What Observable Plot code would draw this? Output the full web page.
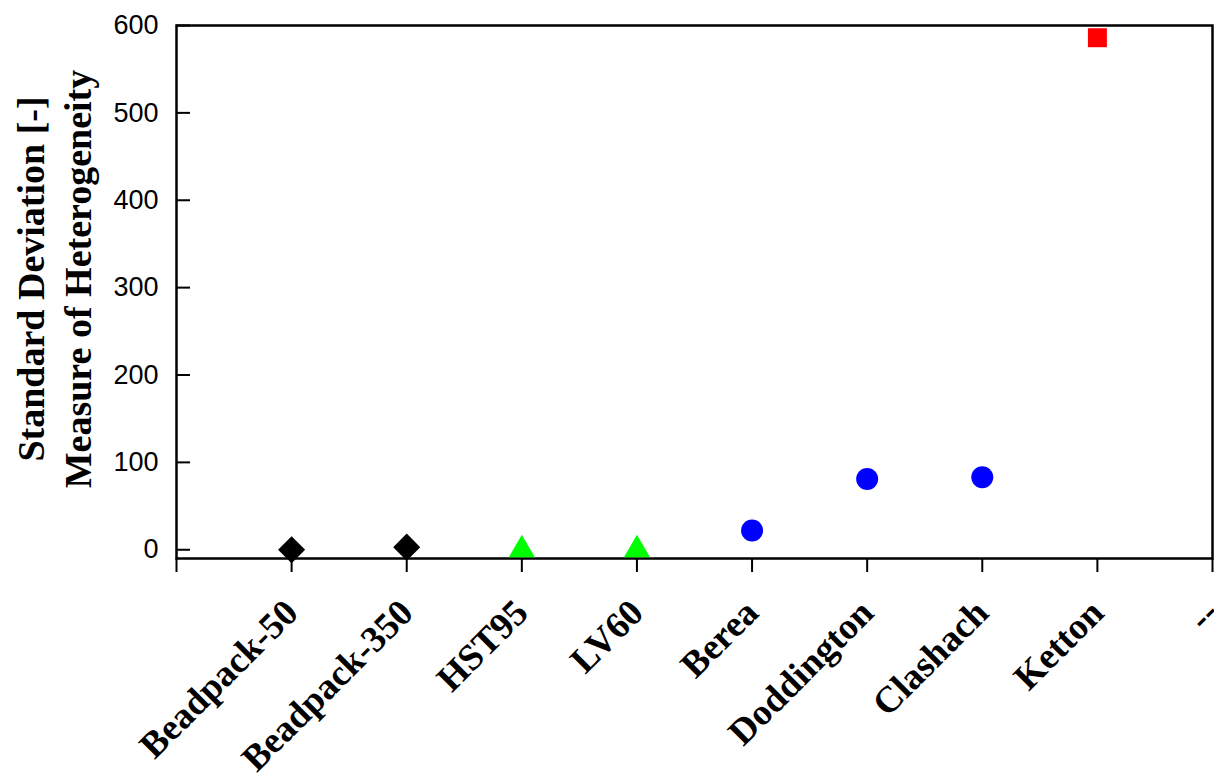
<!DOCTYPE html>
<html><head><meta charset="utf-8">
<script src="https://cdn.jsdelivr.net/npm/d3@7"></script>
<script src="https://cdn.jsdelivr.net/npm/@observablehq/plot@0.6"></script>
<style>body{margin:0;background:#fff}svg{overflow:visible}</style>
</head><body><div id="chart"></div>
<script>
const categories = ["Beadpack-50","Beadpack-350","HST95","LV60","Berea","Doddington","Clashach","Ketton"];
const values = [0, 3, 0, 0, 22, 81, 83, 586];
const groups = ["Beadpack","Beadpack","Sandpack","Sandpack","Sandstone","Sandstone","Sandstone","Carbonate"];
const groupNames = ["Beadpack","Sandpack","Sandstone","Carbonate"];
const groupColors = ["#000000","#00ff00","#0000ff","#ff0000"];
const groupSymbols = ["diamond2","triangle","circle","square"];
const groupRadius = [12.2, 9.7, 11, 10.7];
const xTickLabels = ["", ...categories, "--"];
const yTicks = [0, 100, 200, 300, 400, 500, 600];
const yTitle = "Standard Deviation [-]\nMeasure of Heterogeneity";

const data = categories.map((c, i) => ({
  pos: i + 1,
  name: c,
  value: values[i],
  group: groups[i],
  r: groupRadius[groupNames.indexOf(groups[i])]
}));

const serif = "'Liberation Serif','Times New Roman',serif";
const sans = "'Liberation Sans',Arial,sans-serif";

const chart = Plot.plot({
  width: 1214, height: 778,
  marginLeft: 176, marginRight: 2, marginTop: 25, marginBottom: 220,
  style: {background: "#fff", overflow: "visible"},
  x: {domain: [0, 9]},
  y: {domain: [-10, 600]},
  r: {type: "identity"},
  color: {domain: groupNames, range: groupColors},
  symbol: {domain: groupNames, range: groupSymbols},
  marks: [
    Plot.frame({stroke: "black", strokeWidth: 2.5}),
    Plot.axisY({ticks: yTicks, tickSize: -14, text: null, strokeWidth: 2, label: null}),
    Plot.axisY({ticks: yTicks, tickSize: 0, tickPadding: 18, fontSize: 27, fontFamily: sans, label: null}),
    Plot.axisX({ticks: d3.range(0, 10), tickFormat: i => xTickLabels[i], tickSize: 14, strokeWidth: 2,
      tickRotate: -45, tickPadding: 34, fontSize: 37, fontWeight: "bold", fontFamily: serif, label: null}),
    Plot.text([yTitle], {frameAnchor: "left", text: d => d, rotate: -90, dx: -124, dy: -13,
      fontSize: 38, fontWeight: "bold", fontFamily: serif, lineHeight: 1.25, textAnchor: "middle", fill: "black"}),
    Plot.dot(data, {x: "pos", y: "value", symbol: "group", fill: "group", r: "r", stroke: "none"})
  ]
});
document.getElementById("chart").appendChild(chart);
</script>
</body></html>
